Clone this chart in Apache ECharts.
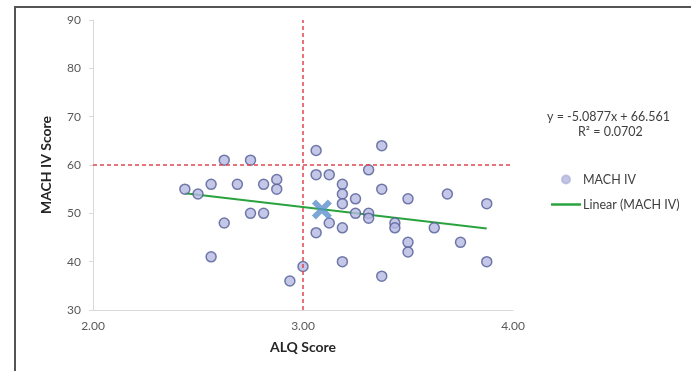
<!DOCTYPE html>
<html>
<head>
<meta charset="utf-8">
<script src="https://cdn.jsdelivr.net/npm/echarts@6/dist/echarts.min.js"></script>
<style>
  html, body { margin: 0; padding: 0; background: #fff; }
  #chart { width: 691px; height: 371px; }
</style>
</head>
<body>
<div id="chart"></div>
<script>
// ALQ score (x) and MACH IV score (y) for each respondent
const alqScores = [2.4375, 2.5, 2.5625, 2.625, 2.6875, 2.75, 2.8125, 2.875, 2.875, 2.5625,
  2.625, 2.75, 2.8125, 2.9375, 3.0, 3.0625, 3.0625, 3.125, 3.1875, 3.1875,
  3.1875, 3.25, 3.3125, 3.375, 3.375, 3.25, 3.3125, 3.3125, 3.4375, 3.4375,
  3.5, 3.5, 3.5, 3.125, 3.0625, 3.1875, 3.1875, 3.375, 3.625, 3.6875,
  3.75, 3.875, 3.875]
const machScores = [55, 54, 56, 61, 56, 61, 56, 57, 55, 41,
  48, 50, 50, 36, 39, 63, 58, 58, 56, 54,
  52, 53, 59, 64, 55, 50, 50, 49, 48, 47,
  53, 44, 42, 48, 46, 47, 40, 37, 47, 54,
  44, 52, 40]
// mean point (blue X)
const meanPoint = [3.09, 50.8]
// cut-off lines
const alqCut = 3.0
const machCut = 60
// trend line from the equation printed on the chart
const trendSlope = -5.0877
const trendIntercept = 66.561
const trendRange = [2.4375, 3.875]
const xTicks = [2, 3, 4]
const yTicks = [30, 40, 50, 60, 70, 80, 90]

const font = 'Lato, "Open Sans", sans-serif'
const points = alqScores.map((x, i) => [x, machScores[i]])
const trendData = trendRange.map(x => [x, trendSlope * x + trendIntercept])

let myChart = echarts.init(document.getElementById('chart'))
myChart.setOption({
  animation: false,
  textStyle: { fontFamily: font },
  grid: { left: 93, top: 20, width: 420, height: 290 },
  legend: {
    orient: 'vertical',
    left: 551,
    top: 173,
    padding: 0,
    itemWidth: 30,
    itemHeight: 8,
    itemGap: 12,
    textStyle: { color: '#404040', fontSize: 12.5, fontFamily: font, padding: [0, 0, 0, -3] },
    data: [
      { name: 'MACH IV', icon: 'circle', itemStyle: { color: '#b3b6dc', borderColor: '#b3b6dc' } },
      { name: 'Linear (MACH IV)', icon: 'path://M0,0 L30,0 L30,2.5 L0,2.5 Z', itemStyle: { color: '#2aa33f' } }
    ]
  },
  xAxis: {
    type: 'value',
    min: 2,
    max: 4,
    interval: 1,
    name: 'ALQ Score',
    nameLocation: 'middle',
    nameGap: 30,
    nameTextStyle: { fontSize: 14, fontWeight: 'bold', color: '#262626', fontFamily: font },
    axisLine: { show: true, lineStyle: { color: '#d9d9d9', width: 1 } },
    axisTick: { show: false },
    splitLine: { show: false },
    axisLabel: {
      color: '#595959',
      fontSize: 12,
      margin: 10,
      formatter: v => xTicks.includes(v) ? v.toFixed(2) : ''
    }
  },
  yAxis: {
    type: 'value',
    min: 30,
    max: 90,
    interval: 10,
    name: 'MACH IV Score',
    nameLocation: 'middle',
    nameGap: 40,
    nameTextStyle: { fontSize: 14, fontWeight: 'bold', color: '#262626', fontFamily: font },
    axisLine: { show: true, lineStyle: { color: '#d9d9d9', width: 1 } },
    axisTick: { show: true, length: 4, lineStyle: { color: '#d9d9d9' } },
    splitLine: { show: false },
    axisLabel: {
      color: '#595959',
      fontSize: 12,
      margin: 12,
      formatter: v => yTicks.includes(v) ? String(v) : ''
    }
  },
  graphic: [
    {
      type: 'polyline',
      shape: { points: [[15, 371], [15, 7], [691, 7]] },
      style: { stroke: '#555', lineWidth: 2, fill: null }
    },
    {
      type: 'text',
      left: 547,
      top: 110,
      style: {
        text: 'y = -5.0877x + 66.561',
        fill: '#404040',
        font: '12.5px ' + font
      }
    },
    {
      type: 'text',
      left: 578,
      top: 125,
      style: {
        text: 'R² = 0.0702',
        fill: '#404040',
        font: '12.5px ' + font
      }
    }
  ],
  series: [
    {
      name: 'cut-off',
      type: 'line',
      data: [],
      silent: true,
      markLine: {
        symbol: 'none',
        silent: true,
        label: { show: false },
        lineStyle: { color: '#e0474c', type: [4, 3], width: 1.5 },
        data: [
          [{ coord: [alqCut, 30] }, { coord: [alqCut, 90] }],
          [{ coord: [2, machCut] }, { coord: [4, machCut] }]
        ]
      }
    },
    {
      name: 'Linear (MACH IV)',
      type: 'line',
      data: trendData,
      symbol: 'none',
      z: 3,
      lineStyle: { color: '#2aa33f', width: 2 },
      itemStyle: { color: '#2aa33f' }
    },
    {
      name: 'MACH IV',
      type: 'scatter',
      data: points,
      symbol: 'circle',
      symbolSize: 10,
      z: 4,
      itemStyle: { color: '#b6b9e2', borderColor: '#535c95', borderWidth: 1.5 }
    },
    {
      name: 'mean',
      type: 'scatter',
      data: [meanPoint],
      symbol: 'path://M4,0 L10,6 L16,0 L20,4 L14,10 L20,16 L16,20 L10,14 L4,20 L0,16 L6,10 L0,4 Z',
      symbolSize: 20,
      z: 5,
      itemStyle: { color: '#5a90cc' }
    }
  ]
})
</script>
</body>
</html>
